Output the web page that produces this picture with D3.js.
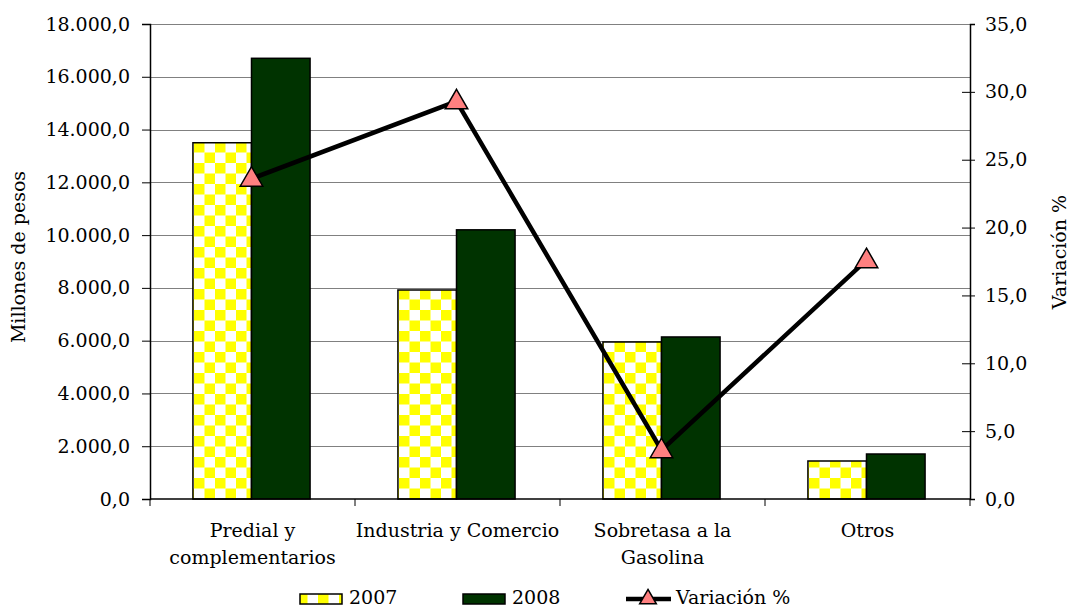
<!DOCTYPE html>
<html>
<head>
<meta charset="utf-8">
<script src="https://cdn.jsdelivr.net/npm/d3@7"></script>
<style>
body { margin: 0; background: #fff; }
text { font-family: "DejaVu Serif", serif; fill: #000; }
</style>
</head>
<body>
<script>
/* data */
var categories = [['Predial y', 'complementarios'], ['Industria y Comercio'], ['Sobretasa a la', 'Gasolina'], ['Otros']]
var values2007 = [13500, 7920, 5950, 1440]
var values2008 = [16700, 10200, 6140, 1705]
var variacion = [23.6, 29.3, 3.6, 17.6]
var leftTicks = d3.range(0, 18001, 2000)
var rightTicks = d3.range(0, 35.1, 5)

/* setup */
var width = 1069, height = 609
var m = { left: 150, right: 970, top: 24, bottom: 499 }
var fs = 19
var fmt = function(v) {
    var s = d3.format(',.1f')(v)
    return s.replace(/,/g, '#').replace('.', ',').replace(/#/g, '.')
}

var svg = d3.select('body').append('svg')
    .attr('width', width)
    .attr('height', height)

var defs = svg.append('defs')
var pat = defs.append('pattern')
    .attr('id', 'checker')
    .attr('patternUnits', 'userSpaceOnUse')
    .attr('width', 21).attr('height', 21)
    .attr('x', 192).attr('y', 499)
pat.append('rect').attr('width', 21).attr('height', 21).attr('fill', '#fff')
pat.append('rect').attr('width', 10.5).attr('height', 10.5).attr('fill', '#ffff00')
pat.append('rect').attr('x', 10.5).attr('y', 10.5).attr('width', 10.5).attr('height', 10.5).attr('fill', '#ffff00')

var x = d3.scaleBand().domain(d3.range(categories.length)).range([m.left, m.right])
var xi = d3.scaleBand().domain([0, 1]).range([0, x.bandwidth()]).paddingOuter(0.75).paddingInner(0)
var y = d3.scaleLinear().domain([0, 18000]).range([m.bottom, m.top])
var y2 = d3.scaleLinear().domain([0, 35]).range([m.bottom, m.top])

/* grid */
svg.append('g').selectAll('line').data(leftTicks.slice(1)).enter().append('line')
    .attr('x1', m.left).attr('x2', m.right)
    .attr('y1', function(d) { return Math.round(y(d)) + 0.5 })
    .attr('y2', function(d) { return Math.round(y(d)) + 0.5 })
    .attr('stroke', '#808080')

/* bars */
var groups = svg.append('g').selectAll('g').data(categories).enter().append('g')
    .attr('transform', function(d, i) { return 'translate(' + (x(i) - 1) + ',0)' })
groups.append('rect')
    .attr('x', function(d, i) { return xi(0) })
    .attr('y', function(d, i) { return y(values2007[i]) })
    .attr('width', xi.bandwidth())
    .attr('height', function(d, i) { return y(0) - y(values2007[i]) })
    .attr('fill', 'url(#checker)')
    .attr('stroke', '#000').attr('stroke-width', 1.5)
groups.append('rect')
    .attr('x', function(d, i) { return xi(1) })
    .attr('y', function(d, i) { return y(values2008[i]) })
    .attr('width', xi.bandwidth())
    .attr('height', function(d, i) { return y(0) - y(values2008[i]) })
    .attr('fill', '#003300')
    .attr('stroke', '#000').attr('stroke-width', 1.5)

/* axes */
var gl = svg.append('g').attr('transform', 'translate(' + m.left + ',0)')
    .call(d3.axisLeft(y).tickValues(leftTicks).tickFormat(fmt).tickSize(8).tickPadding(12))
var gr = svg.append('g').attr('transform', 'translate(' + m.right + ',0)')
    .call(d3.axisRight(y2).tickValues(rightTicks).tickFormat(fmt).tickSize(5).tickPadding(10))
gr.selectAll('.tick line').filter(function(d) { return d > 0 && d < 35 }).attr('x1', -8)
var gb = svg.append('g').attr('transform', 'translate(0,' + m.bottom + ')')
gb.append('line').attr('x1', m.left).attr('x2', m.right).attr('stroke', '#000').attr('stroke-width', 1.5)
gb.selectAll('line.tk').data(d3.range(categories.length + 1)).enter().append('line')
    .attr('x1', function(d) { return m.left + d * x.step() })
    .attr('x2', function(d) { return m.left + d * x.step() })
    .attr('y1', 0).attr('y2', 7).attr('stroke', '#000')
;[gl, gr].forEach(function(g) {
    g.select('.domain').attr('stroke-width', 1.5)
    g.selectAll('text').attr('font-size', fs).attr('font-family', '"DejaVu Serif", serif')
})
gb.selectAll('text.cat').data(categories).enter().append('text')
    .attr('class', 'cat')
    .attr('text-anchor', 'middle')
    .attr('font-size', fs)
    .attr('transform', function(d, i) { return 'translate(' + (x(i) + x.bandwidth() / 2) + ',38)' })
    .each(function(d) {
        var t = d3.select(this)
        d.forEach(function(s, k) { t.append('tspan').attr('x', 0).attr('y', k * 27).text(s) })
    })

/* axis titles */
svg.append('text').attr('font-size', fs).attr('text-anchor', 'middle')
    .attr('transform', 'translate(25,257) rotate(-90)').text('Millones de pesos')
svg.append('text').attr('font-size', fs).attr('text-anchor', 'middle')
    .attr('transform', 'translate(1066,252) rotate(-90)').text('Variación %')

/* line */
var cx = function(i) { return x(i) + x.bandwidth() / 2 - 1 }
var line = d3.line().x(function(d, i) { return cx(i) }).y(function(d) { return y2(d) })
svg.append('path').datum(variacion).attr('d', line)
    .attr('fill', 'none').attr('stroke', '#000').attr('stroke-width', 4.5)
var tri = d3.symbol().type(d3.symbolTriangle).size(220)
svg.append('g').selectAll('path').data(variacion).enter().append('path')
    .attr('d', tri)
    .attr('transform', function(d, i) { return 'translate(' + cx(i) + ',' + (y2(d) + 1) + ')' })
    .attr('fill', '#ff8080').attr('stroke', '#000').attr('stroke-width', 1.5)

/* legend */
var lg = svg.append('g').attr('transform', 'translate(0,599)')
lg.append('rect').attr('x', 300).attr('y', -5).attr('width', 42).attr('height', 10)
    .attr('fill', 'url(#checker)').attr('stroke', '#000').attr('stroke-width', 1.5)
lg.append('text').attr('x', 349).attr('y', 5).attr('font-size', fs).text('2007')
lg.append('rect').attr('x', 463).attr('y', -5).attr('width', 42).attr('height', 10)
    .attr('fill', '#003300').attr('stroke', '#000').attr('stroke-width', 1.5)
lg.append('text').attr('x', 512).attr('y', 5).attr('font-size', fs).text('2008')
lg.append('line').attr('x1', 626).attr('x2', 671).attr('stroke', '#000').attr('stroke-width', 4.5)
lg.append('path').attr('d', d3.symbol().type(d3.symbolTriangle).size(120)).attr('transform', 'translate(648,0)')
    .attr('fill', '#ff8080').attr('stroke', '#000').attr('stroke-width', 1.5)
lg.append('text').attr('x', 676).attr('y', 5).attr('font-size', fs).text('Variación %')
</script>
</body>
</html>
